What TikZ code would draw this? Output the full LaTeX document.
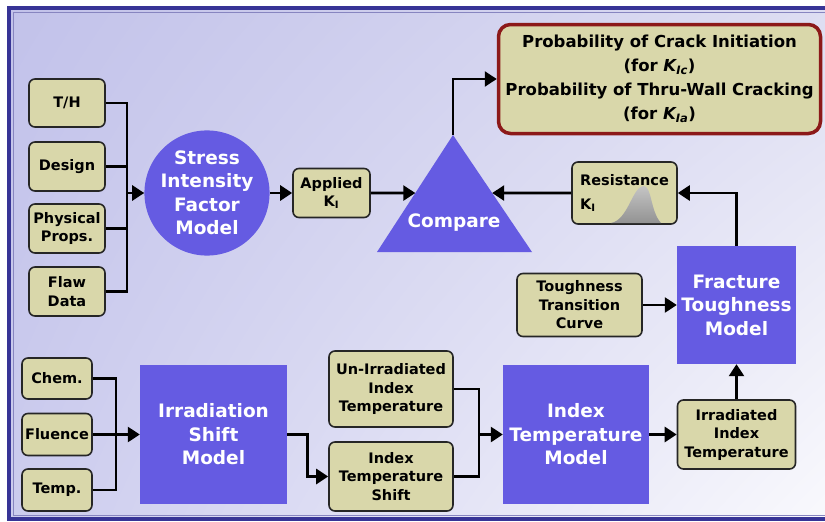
\documentclass[tikz,border=0pt]{standalone}
\usepackage{fontspec}
\setmainfont{DejaVu Sans}
\usetikzlibrary{arrows.meta,calc,shadings}
\definecolor{tanfill}{RGB}{217,215,170}
\definecolor{modelblue}{RGB}{101,91,226}
\definecolor{frameblue}{RGB}{55,52,150}
\definecolor{resultred}{RGB}{140,25,25}
\definecolor{bgA}{RGB}{194,194,234}
\definecolor{bgB}{RGB}{222,222,242}
\definecolor{bgC}{RGB}{204,204,238}
\definecolor{bgD}{RGB}{250,250,253}
\begin{document}
\begin{tikzpicture}[x=1pt, y=-1pt,
	tanbox/.style={draw=black!85, line width=1.6pt, rounded corners=6pt, fill=tanfill,
		align=center, inner sep=0pt, font=\fontsize{14.5}{18.5}\selectfont\bfseries},
	modelbox/.style={fill=modelblue, text=white, align=center, inner sep=0pt,
		font=\fontsize{18.5}{23.5}\selectfont\bfseries},
	wire/.style={line width=2.6pt, black},
	flow/.style={wire, -{Triangle[length=12pt, width=15pt]}}]
	\useasboundingbox (0,0) rectangle (825,522);
	\clip (0,0) rectangle (825,522);
	% page and frame
	\fill[white] (0,0) rectangle (825,522);
	\shade[upper left=bgA, upper right=bgB, lower left=bgC, lower right=bgD] (9,8) rectangle (845,519);
	\draw[frameblue, line width=4pt] (9,8) rectangle (845,519);
	\draw[frameblue!60, line width=1pt] (13,12) rectangle (845,515);
	% inputs of the stress model
	\node[tanbox, minimum width=76, minimum height=48] (th) at (67,103) {T/H};
	\node[tanbox, minimum width=76, minimum height=49] (design) at (67,166.5) {Design};
	\node[tanbox, minimum width=76, minimum height=49] (phys) at (67,228.5) {Physical\\Props.};
	\node[tanbox, minimum width=76, minimum height=49] (flaw) at (67,291.5) {Flaw\\Data};
	\coordinate (sifbus) at (127,193);
	\draw[wire] (th.east) -| (flaw.east -| sifbus) -- (flaw.east);
	\draw[wire] (design.east) -- (design.east -| sifbus);
	\draw[wire] (phys.east) -- (phys.east -| sifbus);
	% stress intensity factor model
	\node[modelbox, circle, minimum size=120] (sif) at (207,193) {Stress\\Intensity\\Factor\\Model};
	\draw[flow] (sifbus) -- (sif);
	\node[tanbox, minimum width=77, minimum height=49] (applied) at (331.5,193) {Applied\\K$_{\mathbf{I}}$};
	\draw[flow] (sif) -- (applied);
	% compare triangle
	\coordinate (cmptop) at (453,135);
	\coordinate (cmpbl) at (377,252);
	\coordinate (cmpbr) at (532,252);
	\fill[modelblue] (cmptop) -- (cmpbl) -- (cmpbr) -- cycle;
	\node[modelbox] (cmp) at (454,223) {Compare};
	\coordinate (cmpin) at ($(cmpbl)!0.504!(cmptop)$);
	\coordinate (cmpback) at ($(cmpbr)!0.504!(cmptop)$);
	\draw[flow] (applied) -- (cmpin);
	% result
	\node[tanbox, draw=resultred, line width=3.5pt, rounded corners=12pt, minimum width=322,
		minimum height=109, font=\fontsize{16.5}{24}\selectfont\bfseries] (result) at (659.5,79)
		{Probability of Crack Initiation\\(for \textit{K\textsubscript{Ic}})\\Probability of Thru-Wall Cracking\\(for \textit{K\textsubscript{Ia}})};
	\draw[flow] (cmptop) |- (result);
	% resistance
	\node[tanbox, minimum width=105, minimum height=62, align=left] (res) at (624.5,193) {Resistance\\[5pt]K$_{\mathbf{I}}$};
	\shade[top color=gray!45, bottom color=gray!85] (611,223) .. controls (628,220) and (632,188) .. (643,186)
		.. controls (652,185) and (650,211) .. (661,223) -- cycle;
	\draw[flow] (res) -- (cmpback);
	% fracture toughness
	\node[modelbox, minimum width=119, minimum height=118] (frac) at (736.5,305) {Fracture\\Toughness\\Model};
	\node[tanbox, minimum width=125, minimum height=63] (ttc) at (579.5,305) {Toughness\\Transition\\Curve};
	\draw[flow] (frac) |- (res);
	\draw[flow] (ttc) -- (frac);
	% irradiation shift
	\node[tanbox, minimum width=70, minimum height=41] (chem) at (57,378.5) {Chem.};
	\node[tanbox, minimum width=70, minimum height=42] (fluence) at (57,434.5) {Fluence};
	\node[tanbox, minimum width=70, minimum height=42] (temp) at (57,490) {Temp.};
	\node[modelbox, minimum width=147, minimum height=139] (ism) at (213.5,434.5) {Irradiation\\Shift\\Model};
	\coordinate (ismbus) at (116,434.5);
	\draw[wire] (chem.east) -| (temp.east -| ismbus) -- (temp.east);
	\draw[flow] (fluence) -- (ism);
	% index temperature
	\node[tanbox, minimum width=124, minimum height=76] (unirr) at (391,389) {Un-Irradiated\\Index\\Temperature};
	\node[tanbox, minimum width=124, minimum height=69] (its) at (391,476.5) {Index\\Temperature\\Shift};
	\draw[flow] (ism.east) -- ++(20,0) |- (its);
	\node[modelbox, minimum width=146, minimum height=139] (itm) at (576,434.5) {Index\\Temperature\\Model};
	\coordinate (itmbus) at (479,434.5);
	\draw[wire] (unirr.east) -| (its.east -| itmbus) -- (its.east);
	\draw[flow] (itmbus) -- (itm);
	\node[tanbox, minimum width=118, minimum height=69] (iit) at (736.5,434.5) {Irradiated\\Index\\Temperature};
	\draw[flow] (itm) -- (iit);
	\draw[flow] (iit) -- (frac);
\end{tikzpicture}
\end{document}
